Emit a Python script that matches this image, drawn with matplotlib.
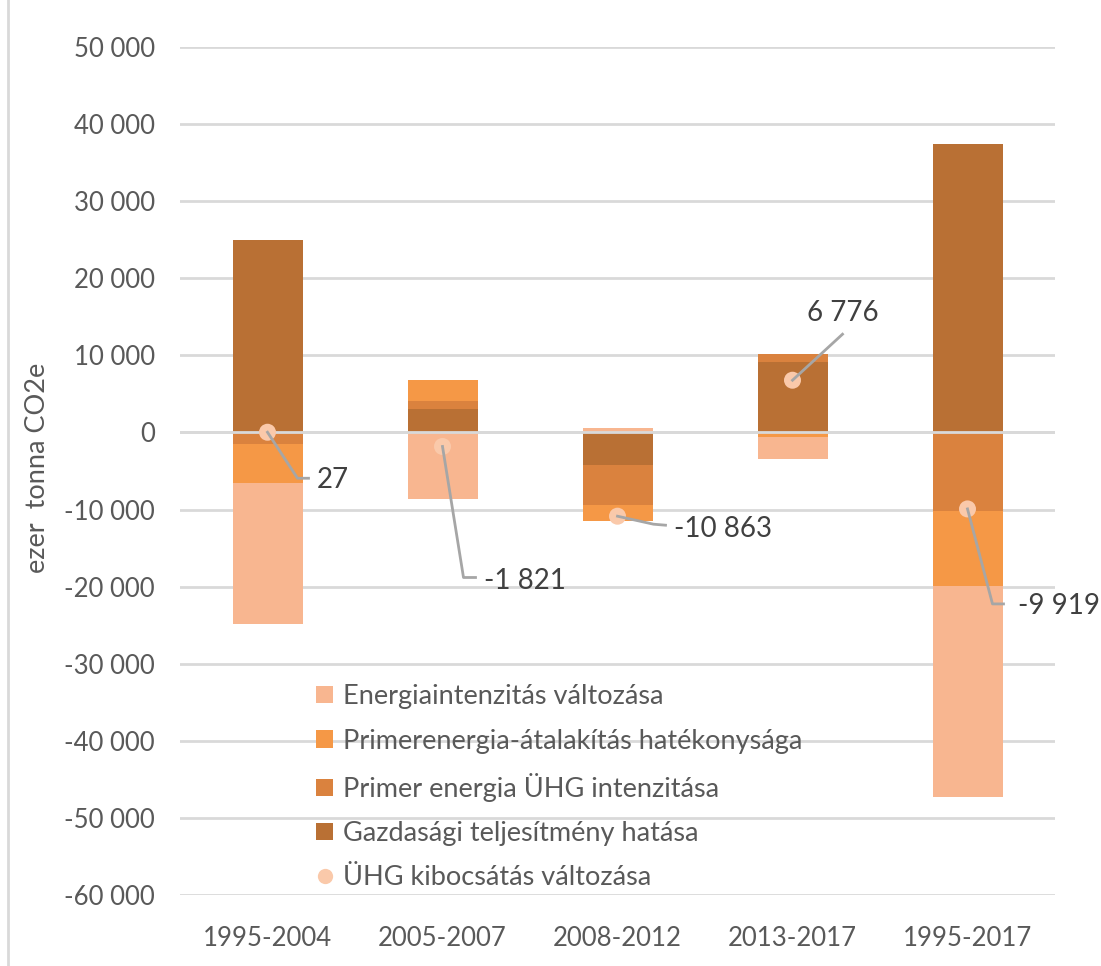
import matplotlib
matplotlib.use("Agg")
import matplotlib.pyplot as plt
from matplotlib.patches import Patch
from matplotlib.lines import Line2D
import numpy as np

plt.rcParams['font.family'] = ['Lato', 'DejaVu Sans']

categories = ["1995-2004", "2005-2007", "2008-2012", "2013-2017", "1995-2017"]
gazdasagi = [24900, 3040, -4170, 9090, 37400]
primer_uhg = [-1550, 1040, -5260, 1080, -10200]
atalakitas = [-5070, 2780, -2000, -560, -9700]
energiaint = [-18250, -8680, 570, -2830, -27419]
totals = [27, -1821, -10863, 6776, -9919]
yticks = list(range(-60000, 50001, 10000))

series = [
    ("Gazdasági teljesítmény hatása", gazdasagi, "#B97034"),
    ("Primer energia ÜHG intenzitása", primer_uhg, "#DA823E"),
    ("Primerenergia-átalakítás hatékonysága", atalakitas, "#F59846"),
    ("Energiaintenzitás változása", energiaint, "#F8B690"),
]
dot_color = "#FAC9AA"
text_color = "#595959"

W, H = 1101, 966
fig = plt.figure(figsize=(W / 100, H / 100), dpi=100)
ax = fig.add_axes([180 / W, 1 - 895 / H, 875 / W, 848 / H])

x = np.arange(len(categories))
pos_base = np.zeros(len(categories))
neg_base = np.zeros(len(categories))
for name, vals, col in series:
    v = np.array(vals, dtype=float)
    bottoms = np.where(v >= 0, pos_base, neg_base)
    ax.bar(x, v, bottom=bottoms, width=0.4, color=col, edgecolor="none", zorder=2)
    pos_base += np.where(v >= 0, v, 0)
    neg_base += np.where(v < 0, v, 0)

ax.scatter(x, totals, s=150, color=dot_color, zorder=4, edgecolors="none")

ax.set_xlim(-0.5, len(categories) - 0.5)
ax.set_ylim(-60000, 50000)
ax.set_yticks(yticks)
ax.set_yticklabels([f"{t:,}".replace(",", " ") for t in yticks], fontsize=18.5, color=text_color)
ax.set_xticks(x)
ax.set_xticklabels(categories, fontsize=18.5, color=text_color)
ax.tick_params(axis="both", length=0)
ax.tick_params(axis="y", pad=18)
ax.tick_params(axis="x", pad=22)
ax.grid(axis="y", color="#D9D9D9", linewidth=2, zorder=0)
ax.axhline(0, color="#D9D9D9", linewidth=2, zorder=3)
for sp in ax.spines.values():
    sp.set_visible(False)

fig.text(38 / W, 1 - 468 / H, "ezer  tonna CO2e", rotation=90, ha="center", va="center",
         fontsize=19.5, color=text_color)

# leader lines & labels (pixel offsets relative to dot: elbow, end, text)
offsets = [
    ((30, 46), (41, 46), (49, 48), "left"),
    ((21, 131), (33, 131), (41, 135), "left"),
    ((36, 8), (48, 9), (56, 13), "left"),
    (None, (50, -46), (50, -67), "center"),
    ((25, 95), (36, 95), (51, 97), "left"),
]
fig.canvas.draw()
for i, (elbow, end, txt, ha) in enumerate(offsets):
    px, py = ax.transData.transform((x[i], totals[i]))
    pts = [(px, py)]
    if elbow:
        pts.append((px + elbow[0], py - elbow[1]))
    pts.append((px + end[0], py - end[1]))
    xs = [p[0] / W for p in pts]
    ys = [p[1] / H for p in pts]
    fig.add_artist(Line2D(xs, ys, transform=fig.transFigure, color="#A6A6A6", linewidth=2, zorder=5))
    fig.text((px + txt[0]) / W, (py - txt[1]) / H, f"{totals[i]:,}".replace(",", " "),
             ha=ha, va="center", fontsize=20, color="#404040")

handles = [Patch(facecolor=c, edgecolor="none") for _, _, c in series[::-1]]
labels = [n for n, _, _ in series[::-1]]
handles.append(Line2D([], [], marker="o", linestyle="none", markersize=11,
                      markerfacecolor=dot_color, markeredgecolor="none"))
labels.append("ÜHG kibocsátás változása")
leg = ax.legend(handles, labels, loc="upper left", bbox_to_anchor=((292 - 180) / 875, (895 - 660) / 848),
                frameon=False, fontsize=19.5, labelcolor=text_color, handlelength=0.6,
                handleheight=0.6, handletextpad=0.4, labelspacing=0.71)

fig.add_artist(Line2D([8 / W, 8 / W], [0, 1], transform=fig.transFigure, color="#D9D9D9", linewidth=2))

fig.savefig("out.png", dpi=100)
